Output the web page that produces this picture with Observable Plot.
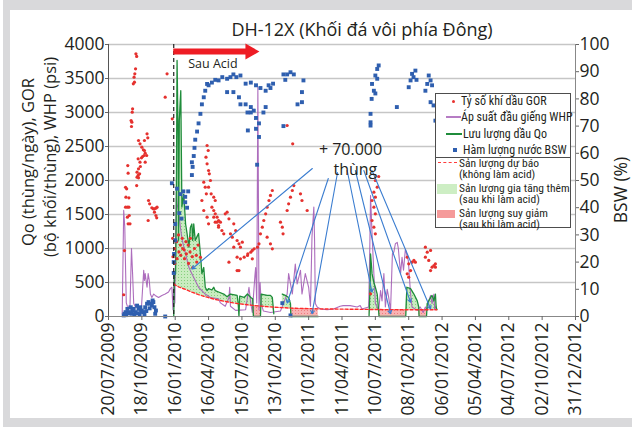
<!DOCTYPE html>
<html><head><meta charset="utf-8">
<script src="https://cdn.jsdelivr.net/npm/d3@7"></script>
<script src="https://cdn.jsdelivr.net/npm/@observablehq/plot@0.6"></script>
<style>
body{margin:0;background:#fff;font-family:"Open Sans",sans-serif;color:#231f20;}
#wrap{position:relative;width:632px;height:427px;overflow:hidden;background:#fff;}
#frame{position:absolute;left:3px;top:0;width:700px;height:427px;background:#d9d9db;}
#inner{position:absolute;left:10px;top:10px;width:700px;height:408px;background:#fff;}
#chart{position:absolute;left:0;top:0;}
#title{position:absolute;top:18px;left:0;width:724px;text-align:center;font-size:18px;line-height:22px;white-space:nowrap;}
#legend{position:absolute;left:435px;top:93px;width:134px;height:133px;border:1px solid #4d4d4d;background:#fff;font-size:11.5px;font-family:"Liberation Sans Narrow","Arial Narrow","Roboto Condensed","Roboto",sans-serif;}
#legend .t{position:absolute;white-space:nowrap;transform:translateY(-50%);line-height:10px;}
#legend .s{position:absolute;}
</style></head>
<body>
<div id="wrap">
  <div id="frame"></div><div id="inner"></div>
  <div id="chart"></div>
  <div id="title">DH-12X (Khối đá vôi phía Đông)</div>
  <div id="legend">
    <div class="s" style="left:16px;top:5.5px;width:3px;height:3px;border-radius:50%;background:#e8322f"></div>
    <div class="t" style="left:25px;top:7px;font-size:12px">Tỷ số khí dầu GOR</div>
    <div class="s" style="left:10px;top:22px;width:15px;height:1.5px;background:#b67cc4"></div>
    <div class="t" style="left:25px;top:23px;font-size:12px">Áp suất đầu giếng WHP</div>
    <div class="s" style="left:10px;top:39px;width:16px;height:1.5px;background:#1f8c3b"></div>
    <div class="t" style="left:27px;top:39.5px;font-size:12px">Lưu lượng dầu Qo</div>
    <div class="s" style="left:16.5px;top:54px;width:4px;height:4px;background:#2f5faf"></div>
    <div class="t" style="left:27px;top:56px;font-size:12px">Hàm lượng nước BSW</div>
    <div class="s" style="left:0;top:62.5px;width:134px;height:1px;background:#4d4d4d"></div>
    <div class="s" style="left:2px;top:68px;width:19px;height:0;border-top:1.5px dashed #ff3b3b"></div>
    <div class="t" style="left:23px;top:68.5px">Sản lượng dự báo</div>
    <div class="t" style="left:23px;top:79.5px">(không làm acid)</div>
    <div class="s" style="left:1px;top:90px;width:20px;height:10px;background:#cdeec4"></div>
    <div class="t" style="left:23px;top:93.5px">Sản lượng gia tăng thêm</div>
    <div class="t" style="left:23px;top:104.5px">(sau khi làm acid)</div>
    <div class="s" style="left:1px;top:116px;width:18px;height:8px;background:#f59a9a"></div>
    <div class="t" style="left:23px;top:119px">Sản lượng suy giảm</div>
    <div class="t" style="left:23px;top:130px">(sau khi làm acid)</div>
  </div>
</div>
<script>
// ---------------- DATA ----------------
const xDomain = ["2009-07-20", "2012-12-31"];
const xTickDates = ["2009-07-20","2009-10-18","2010-01-16","2010-04-16","2010-07-15","2010-10-13","2011-01-11","2011-04-11","2011-07-10","2011-10-08","2012-01-06","2012-04-05","2012-07-04","2012-10-02","2012-12-31"];
const leftTicks = [0,500,1000,1500,2000,2500,3000,3500,4000];
const rightTicks = [0,10,20,30,40,50,60,70,80,90,100];
const acidDate = "2010-01-12";

// GOR (bộ khối/thùng)
const gorDates = ["2009-08-30","2009-09-01","2009-09-04","2009-09-05","2009-09-07","2009-09-04","2009-09-09","2009-09-13","2009-09-14","2009-09-09","2009-09-11","2009-09-16","2009-09-10","2009-09-11","2009-09-13",
"2009-09-19","2009-09-20","2009-09-21","2009-09-22","2009-09-23","2009-09-25","2009-09-27","2009-09-28","2009-09-29","2009-10-01","2009-10-02","2009-10-04",
"2009-10-04","2009-10-05","2009-10-05","2009-10-08","2009-10-08","2009-10-09","2009-10-09","2009-10-09","2009-10-12","2009-10-13","2009-10-13","2009-10-14","2009-10-17","2009-10-18","2009-10-20","2009-10-22","2009-10-24","2009-10-25","2009-10-25","2009-10-27","2009-10-27","2009-10-31","2009-11-01","2009-11-03",
"2009-11-04","2009-11-05","2009-11-08","2009-11-14","2009-11-18","2009-11-21","2009-11-21","2009-11-25","2009-11-25","2009-11-27","2009-11-28","2009-12-20","2009-12-25","2010-01-08",
"2010-01-09","2010-01-10","2010-01-14","2010-01-15","2010-01-20","2010-01-21","2010-01-25","2010-01-26","2010-01-30","2010-01-31","2010-02-04","2010-02-05","2010-02-09","2010-02-10","2010-02-14","2010-02-15","2010-02-20","2010-02-21","2010-02-25","2010-02-26","2010-03-03","2010-03-04","2010-03-09","2010-03-14","2010-03-15","2010-03-19","2010-03-25",
"2010-03-29","2010-04-03","2010-04-03","2010-04-07","2010-04-09","2010-04-10","2010-04-12","2010-04-12","2010-04-12","2010-04-15","2010-04-16","2010-04-16","2010-04-16","2010-04-18","2010-04-21","2010-04-23","2010-04-25","2010-04-30","2010-04-30","2010-04-30","2010-05-04","2010-05-04","2010-05-04","2010-05-09","2010-05-09","2010-05-13","2010-05-13","2010-05-13","2010-05-18","2010-05-22","2010-05-27","2010-05-31",
"2010-06-05","2010-06-10","2010-06-10","2010-06-14","2010-06-19","2010-06-23","2010-06-23","2010-06-28","2010-07-02","2010-07-02","2010-07-02","2010-07-07","2010-07-07","2010-07-11","2010-07-11","2010-07-16","2010-07-21","2010-07-30","2010-07-31","2010-08-08","2010-08-12","2010-08-12","2010-08-17","2010-08-26","2010-08-30",
"2010-09-03","2010-09-08","2010-09-12","2010-09-17","2010-09-21","2010-09-21","2010-09-26","2010-09-30","2010-09-30","2010-10-05","2010-10-05","2010-10-27","2010-11-01","2010-11-03","2010-11-14","2010-11-14","2010-11-18","2010-11-23","2010-11-28","2010-11-29","2010-12-02","2010-12-20","2010-12-24","2011-01-07",
"2011-06-27","2011-07-01","2011-07-01","2011-07-06","2011-07-06","2011-07-06","2011-07-10","2011-07-10","2011-07-10","2011-07-10","2011-07-15","2011-07-19",
"2011-10-04","2011-10-04","2011-10-08","2011-10-08","2011-10-13","2011-10-17","2011-10-22","2011-10-26","2011-11-22","2011-11-22","2011-11-27","2011-12-01","2011-12-06","2011-12-06","2011-12-10","2011-12-15","2011-12-19","2011-12-19"];
const gorValues = [320,970,1900,1755,1878,1608,1608,1608,1485,1461,1363,1363,2220,2108,1745,
2882,2794,2858,3005,3054,3422,3520,3446,3569,3642,3863,3824,
1926,2123,2049,2319,2074,2588,2172,2040,2098,2539,2270,2206,2333,2490,2353,2451,2368,2588,2441,2402,2270,2368,2686,2627,
1412,1706,1657,1598,1583,1583,1534,1593,1485,1451,1608,3225,3569,2907,
1150,880,1000,780,1100,850,1200,950,1050,900,1150,1000,980,850,1100,920,1050,780,950,1150,880,720,1000,900,800,1050,870,
1706,1975,1559,1902,2343,1804,2515,2245,1461,2441,2147,1902,1363,2098,2000,1804,1608,1755,1559,1461,1706,1510,1387,1461,1387,1412,1338,1314,1387,1265,1216,1510,
1534,1436,799,1216,1166,1363,1020,1265,1118,676,873,1069,676,1020,848,1093,873,897,922,946,848,971,995,1020,1069,
1216,1314,1412,1510,1608,1166,1706,1780,1069,1853,995,1387,1314,1216,1559,2809,1657,1755,1853,2539,1926,1804,1706,1559,
334,1706,1412,1828,1608,1314,2000,1755,1510,1216,1902,2059,
873,628,775,578,676,799,824,799,1020,873,946,824,676,971,725,750,775,725];

// BSW (%)
const bswDates = ["2009-08-30","2009-09-01","2009-09-04","2009-09-06","2009-09-09","2009-09-12","2009-09-13","2009-09-18","2009-09-20","2009-09-22","2009-09-26","2009-09-28","2009-10-01","2009-10-05","2009-10-07","2009-10-09","2009-10-12","2009-10-14","2009-10-16","2009-10-18","2009-10-22","2009-10-25","2009-10-27","2009-10-30","2009-11-01","2009-11-05","2009-11-08","2009-11-10","2009-11-14","2009-11-16","2009-11-18","2009-11-21","2009-11-23","2009-11-25","2009-12-20",
"2010-01-07","2010-01-12","2010-01-12","2010-01-13","2010-01-16","2010-01-16","2010-01-21","2010-01-27","2010-01-30","2010-02-02","2010-02-07","2010-02-12","2010-02-12","2010-02-17","2010-02-20",
"2010-03-02","2010-03-02","2010-03-04","2010-03-07","2010-03-09","2010-03-11","2010-03-16","2010-03-20","2010-03-25","2010-03-29","2010-04-03","2010-04-07","2010-04-12","2010-04-16","2010-04-25","2010-05-04","2010-05-13","2010-05-23","2010-06-05","2010-06-05","2010-06-14","2010-06-22","2010-06-22","2010-06-30",
"2010-07-07","2010-07-11","2010-07-11","2010-07-25","2010-07-25","2010-07-30","2010-07-31","2010-08-08","2010-08-08","2010-08-08","2010-08-16","2010-08-22","2010-08-22","2010-08-22","2010-08-25","2010-08-30","2010-08-30","2010-09-03","2010-09-11","2010-09-17","2010-09-17","2010-09-25","2010-09-30","2010-10-07",
"2010-11-04","2010-11-14","2010-11-04","2010-11-09","2010-11-23","2010-12-02","2010-12-12","2010-12-24","2010-12-24","2010-12-28","2010-11-01","2010-11-23",
"2011-06-27","2011-06-27","2011-06-27","2011-06-30","2011-07-01","2011-07-06","2011-07-10","2011-07-10","2011-07-15","2011-07-15","2011-07-19","2011-09-06",
"2011-10-08","2011-10-13","2011-10-17","2011-10-21","2011-10-26","2011-10-29","2011-11-22","2011-11-27","2011-12-01","2011-12-06","2011-12-06","2011-12-10","2011-12-14","2011-12-19"];
const bswValues = [0.4,1.0,1.6,0.5,2.8,1.2,1.6,3.4,1.0,2.2,2.8,0.8,1.6,4.0,1.2,2.8,0.6,3.4,1.8,2.2,1.6,0.8,3.4,2.0,4.7,5.3,3.0,4.7,4.0,5.9,5.3,3.4,1.0,2.2,0,
49,16,20,23,34,28,47,38,45,36,46,44,42,40,46,
52,56.7,55,59,62,65,68,71,74.5,78,80.6,83,85.5,85,86,87,86.8,88,87.4,82.5,88,89,82.5,88,
80.6,88.6,78,85.6,78,75,68.4,86,75,77,75.7,85,73,69,55.8,71,66,84,75,83,77,85,84,85.6,
89,89,70,87,89.8,89,78,78.8,82.5,86.8,4.9,0.4,
74.5,71.4,70.2,80,85.5,83,82,88.6,87.4,91,92.3,77,
84.3,86.8,89.2,88,90.4,87,83,85.5,88.6,78.8,86.8,85,77.6,72];

// WHP (psi)
const whpDates = ["2009-08-26","2009-08-30","2009-09-02","2009-09-04","2009-09-06","2009-09-09","2009-09-16","2009-09-20","2009-09-23","2009-09-26","2009-10-01","2009-10-09","2009-10-17","2009-10-23","2009-10-25","2009-10-27","2009-11-01","2009-11-04","2009-11-07","2009-11-10","2009-11-14","2009-11-19","2009-11-23","2009-12-02","2009-12-11","2009-12-20","2009-12-29","2010-01-03","2010-01-07",
"2010-01-10","2010-01-13","2010-01-15","2010-01-19","2010-01-21","2010-01-26","2010-01-30","2010-02-04","2010-02-13","2010-02-22","2010-03-02","2010-03-11","2010-03-20","2010-04-07","2010-04-21","2010-05-13","2010-05-18","2010-05-31","2010-06-10","2010-06-12","2010-06-14","2010-06-28","2010-07-25","2010-08-03","2010-08-08","2010-08-12","2010-08-19","2010-08-21","2010-08-24","2010-08-27","2010-08-30","2010-09-02","2010-09-05","2010-09-11","2010-09-30","2010-10-27",
"2010-11-14","2010-11-18","2010-11-28","2010-12-06","2010-12-11","2010-12-20","2010-12-24","2011-01-02","2011-01-11","2011-01-16","2011-01-20","2011-01-25","2011-01-27","2011-01-29","2011-02-03","2011-02-12","2011-03-02","2011-03-19","2011-04-06","2011-04-14","2011-05-03","2011-05-22","2011-05-30","2011-06-04","2011-06-22",
"2011-06-25","2011-06-27","2011-07-01","2011-07-06","2011-07-10","2011-07-19","2011-07-24","2011-07-28","2011-08-02","2011-08-06","2011-08-11","2011-08-15","2011-08-20","2011-08-25","2011-08-29","2011-09-02","2011-09-07","2011-09-10","2011-09-16","2011-09-20","2011-09-24","2011-09-29","2011-10-07","2011-10-13","2011-10-17","2011-10-31","2011-11-08","2011-11-16","2011-11-22","2011-11-27","2011-12-01","2011-12-06","2011-12-10","2011-12-15","2011-12-17","2011-12-21"];
const whpValues = [40,1560,1310,720,200,150,150,1000,630,190,140,130,140,680,530,630,430,630,530,330,280,330,310,280,310,330,360,410,430,
100,600,200,1830,1660,1510,1310,1120,920,720,630,530,430,330,280,260,200,150,280,430,150,90,100,430,190,60,600,720,200,3370,100,500,190,80,60,80,
330,630,330,770,480,680,330,630,430,150,1170,1610,1120,190,140,110,100,110,150,160,160,140,160,110,140,
1000,1780,1220,630,190,90,380,230,630,140,400,280,90,920,950,1070,1090,1000,630,870,680,990,820,330,140,90,140,60,140,90,230,310,190,330,100,150];

// Qo (thùng/ngày) after acid, with the no-acid forecast at the same dates (null = no data)
const qoDates = ["2010-01-12","2010-01-14","2010-01-17","2010-01-19","2010-01-21","2010-01-24","2010-01-25","2010-01-27","2010-01-31","2010-02-03","2010-02-08","2010-02-13","2010-02-17","2010-02-22","2010-02-26","2010-03-02","2010-03-04","2010-03-07","2010-03-11","2010-03-20","2010-03-25","2010-03-29","2010-04-03","2010-04-07","2010-04-12","2010-04-16","2010-04-25","2010-04-30","2010-05-04","2010-05-13","2010-05-27","2010-06-05","2010-06-14","2010-07-02","2010-07-05","2010-07-07","2010-07-09","2010-07-21","2010-07-30","2010-08-08","2010-08-13","2010-08-15","2010-09-03","2010-09-05","2010-09-21","2010-09-30","2010-10-05","2010-10-09","2010-10-11","2010-10-30","2010-11-01","2010-11-09","2010-11-18","2010-11-23","2010-11-24","2011-02-06","2011-02-08","2011-06-22","2011-06-23","2011-06-26","2011-06-27","2011-06-30","2011-07-01","2011-07-06","2011-07-10","2011-07-15","2011-07-18","2011-07-20","2011-09-30","2011-10-03","2011-10-13","2011-10-22","2011-10-31","2011-11-04","2011-11-05","2011-11-25","2011-11-27","2011-12-06","2011-12-10","2011-12-15","2011-12-19","2011-12-21","2011-12-23"];
const qoValues = [0,600,630,1610,3765,2590,1120,2880,3320,1610,1800,1360,1220,1020,1310,1360,1120,1360,1120,1220,920,630,720,430,380,410,390,430,380,360,330,290,330,310,190,0,300,280,330,280,260,0,0,330,310,310,280,40,null,null,330,310,280,190,0,0,null,null,0,500,920,720,630,500,430,330,140,0,0,430,410,330,230,140,0,0,190,280,310,230,330,140,100];
const forecastValues = [480,470,460,452,447,441,437,432,424,418,408,398,388,378,368,358,355,349,340,322,314,306,298,291,284,277,264,258,252,241,226,217,208,192,190,189,187,179,173,167,164,163,153,152,145,141,140,138,137,131,130,128,125,123,123,112,112,104,104,104,104,103,103,103,102,102,102,102,100,100,100,100,100,100,100,100,100,100,100,100,100,100,100];

// Annotation "+ 70.000 thùng": leader lines (start -> end)
const leadStartDates = ["2011-01-21","2011-03-05","2011-03-30","2011-04-25","2011-05-17","2011-06-09","2011-07-01"];
const leadStartValues = [2176,2029,2118,2147,2147,2147,2147];
const leadEndDates = ["2010-03-02","2010-11-14","2011-01-20","2011-07-01","2011-08-20","2011-10-13","2011-12-06"];
const leadEndValues = [699,199,40,357,40,210,113];

// "Sau Acid" arrow and texts
const arrowStart = "2010-01-12", arrowBodyEnd = "2010-07-30", arrowHead = "2010-08-06", arrowValue = 3897;
const sauAcid = {text:"Sau Acid", date:"2010-02-20", value:3706};
const gainLabels = [
  {text:"+ 70.000", date:"2011-05-04", value:2445},
  {text:"thùng", date:"2011-05-17", value:2150}
];

// ---------------- BUILD ----------------
const P = d3.utcParse("%Y-%m-%d");
const BSW_K = 40; // 100 % -> 4000 on the shared scale
const gor = gorDates.map((d,i)=>({date:P(d), v:gorValues[i]}));
const bsw = bswDates.map((d,i)=>({date:P(d), v:bswValues[i]*BSW_K}));
const whp = whpDates.map((d,i)=>({date:P(d), v:whpValues[i]}));
const qo = qoDates.map((d,i)=>({date:P(d), qo:qoValues[i], fc:forecastValues[i]}));
const leads = leadStartDates.map((d,i)=>({x1:P(d), y1:leadStartValues[i], x2:P(leadEndDates[i]), y2:leadEndValues[i]}));
const gainLab = gainLabels.map(l=>({...l, date:P(l.date)}));

const chart = Plot.plot({
  width: 632, height: 427,
  marginLeft: 108, marginRight: 57, marginTop: 44, marginBottom: 111,
  style: {fontFamily:"Open Sans", fontSize:"17.5px", color:"#231f20", background:"transparent", overflow:"visible"},
  x: {type:"utc", domain: xDomain.map(P)},
  y: {domain:[0,4000]},
  marks: [
    Plot.ruleY(leftTicks.filter(d=>d>0), {stroke:"#c6c6c6", strokeWidth:1.6}),
    Plot.areaY(qo, {x:"date", y1:"fc", y2:d=>d.qo==null?NaN:Math.max(d.qo,d.fc), fill:"url(#gpat)", curve:"linear"}),
    Plot.areaY(qo, {x:"date", y1:d=>d.qo==null?NaN:Math.min(d.qo,d.fc), y2:"fc", fill:"url(#rpat)", curve:"linear"}),
    Plot.line(whp, {x:"date", y:"v", stroke:"#a45db6", strokeWidth:1.1, strokeOpacity:0.9}),
    Plot.line(qo, {x:"date", y:d=>d.qo==null?NaN:d.qo, stroke:"#1f8c3b", strokeWidth:1.3}),
    Plot.line(qo, {x:"date", y:"fc", stroke:"#ff2a2a", strokeWidth:1.4, strokeDasharray:"3,2"}),
    Plot.dot(gor, {x:"date", y:"v", r:1.6, fill:"#e5312e", stroke:"none"}),
    Plot.dot(bsw, {x:"date", y:"v", symbol:"square", r:2.2, fill:"#2f5faf", stroke:"none"}),
    Plot.ruleX([P(acidDate)], {stroke:"#222", strokeWidth:1.2, strokeDasharray:"4,3"}),
    Plot.ruleY([{y:arrowValue}], {y:"y", x1:P(arrowStart), x2:P(arrowBodyEnd), stroke:"#ee1c24", strokeWidth:6}),
    Plot.dot([{x:P(arrowHead), y:arrowValue}], {x:"x", y:"y", symbol:"triangle", rotate:90, r:6, fill:"#ee1c24", stroke:"none"}),
    Plot.arrow(leads, {x1:"x1", y1:"y1", x2:"x2", y2:"y2", stroke:"#3b7dd0", strokeWidth:1.1, headLength:5}),
    Plot.text([sauAcid], {x:d=>P(d.date), y:"value", text:"text", fontSize:12.5, textAnchor:"start", fill:"#231f20"}),
    Plot.text(gainLab, {x:"date", y:"value", text:"text", fontSize:16, textAnchor:"middle", fill:"#231f20"}),
    Plot.ruleX([P(xDomain[0])], {stroke:"#555", strokeWidth:1}),
    Plot.ruleX([P(xDomain[1])], {stroke:"#888", strokeWidth:1}),
    Plot.ruleY([0], {stroke:"#888", strokeWidth:1}),
    Plot.axisY({ticks:leftTicks, tickFormat:d=>String(d), tickSize:3, tickPadding:1, label:null, stroke:"#666"}),
    Plot.axisY({anchor:"right", ticks:rightTicks.map(d=>d*BSW_K), tickFormat:d=>String(d/BSW_K), tickSize:3, tickPadding:1, label:null, stroke:"#666"}),
    Plot.axisX({ticks:xTickDates.map(P), tickFormat:d3.utcFormat("%d/%m/%Y"), tickRotate:-90, tickSize:4, tickPadding:2, label:null, stroke:"#666"})
  ]
});

// patterns for the filled areas
const svg = d3.select(chart);
const defs = svg.insert("defs", ":first-child");
const gp = defs.append("pattern").attr("id","gpat").attr("width",3).attr("height",3).attr("patternUnits","userSpaceOnUse");
gp.append("rect").attr("width",3).attr("height",3).attr("fill","#c9ecc0");
gp.append("rect").attr("x",1).attr("y",1).attr("width",1).attr("height",1).attr("fill","#86cf7e");
const rp = defs.append("pattern").attr("id","rpat").attr("width",3).attr("height",3).attr("patternUnits","userSpaceOnUse");
rp.append("rect").attr("width",3).attr("height",3).attr("fill","#f8b3b3");
rp.append("rect").attr("x",1).attr("y",1).attr("width",1).attr("height",1).attr("fill","#ee7e7e");

// axis titles
const yl = svg.append("g").attr("font-size","16.5px").attr("fill","#231f20").attr("text-anchor","middle");
yl.append("text").attr("transform","translate(28,162) rotate(-90)").attr("dy","0.35em").text("Qo (thùng/ngày), GOR");
yl.append("text").attr("transform","translate(50,157) rotate(-90)").attr("dy","0.35em").text("(bộ khối/thùng), WHP (psi)");
yl.append("text").attr("transform","translate(621,190) rotate(-90)").attr("dy","0.35em").attr("font-size","17.5px").text("BSW (%)");

document.getElementById("chart").appendChild(chart);
</script>
</body></html>
